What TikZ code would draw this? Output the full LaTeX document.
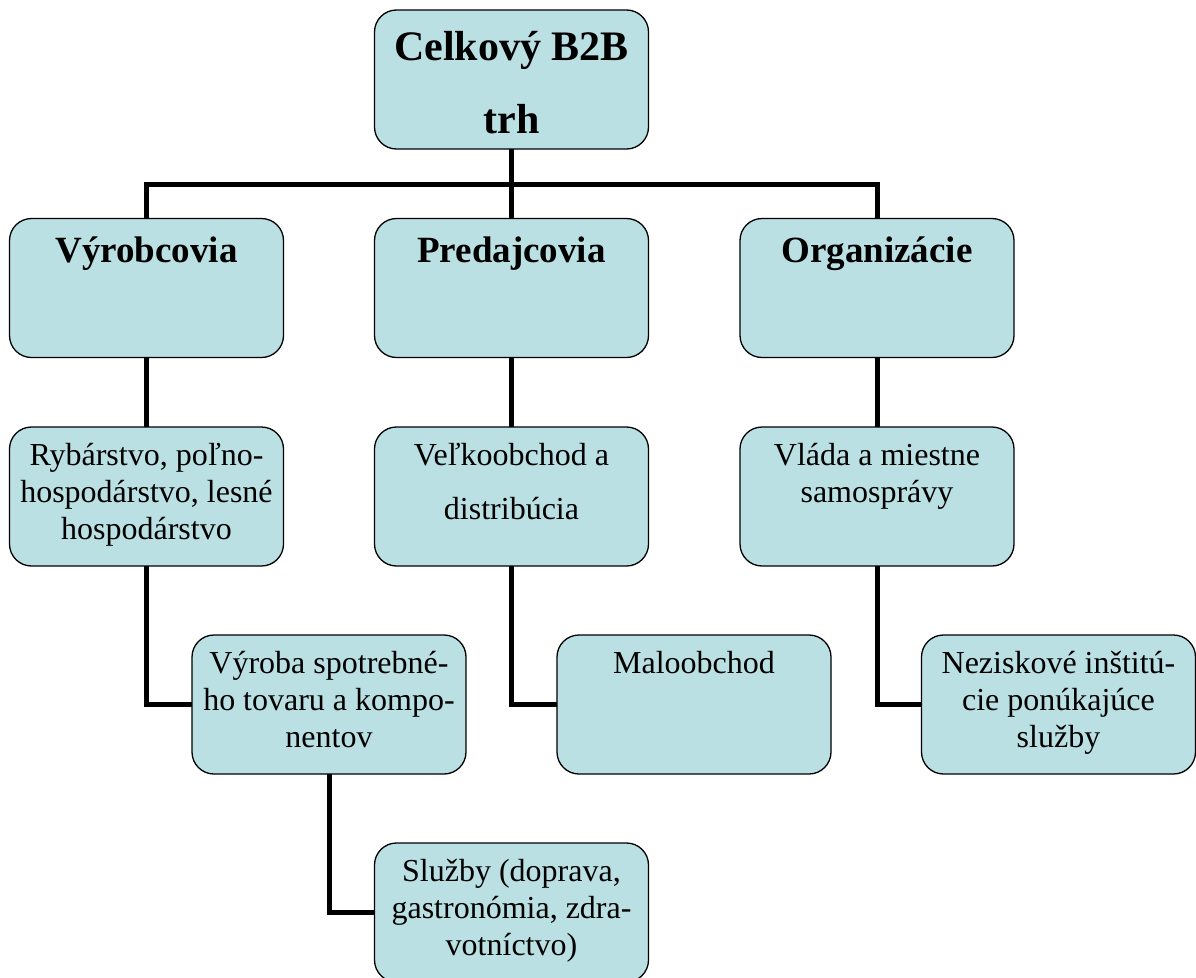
\documentclass[tikz,border=0pt]{standalone}
\usepackage{fontspec}
\setmainfont{Liberation Serif}
\definecolor{cardfill}{RGB}{186,224,227}

% Text block of a card: fixed size, text set from the top.
% #1 font setup, #2 height of first line (baseline offset), #3 text
\newcommand\cardtext[3]{\parbox[c][139pt][t]{274pt}{\centering #1\rule{0pt}{#2}#3\par}}
\newcommand\titlefont{\fontsize{42pt}{73pt}\selectfont\bfseries}
\newcommand\headfont{\fontsize{37pt}{44pt}\selectfont\bfseries}
\newcommand\bodyfont{\fontsize{32pt}{37pt}\selectfont}
\newcommand\widebodyfont{\fontsize{32pt}{54pt}\selectfont}

\tikzset{
  card/.style={draw=black, fill=cardfill, rounded corners=22pt, line width=1.3pt,
    inner sep=0pt, outer sep=0pt, minimum width=274pt, minimum height=139pt},
  wire/.style={draw=black, line width=5pt, line join=miter}
}

\begin{document}
\begin{tikzpicture}[x=1pt,y=-1pt]
\useasboundingbox (0,0) rectangle (1196,977);

% height of the horizontal bus below the root
\coordinate (bus) at (0,184.5);

% cards
\node[card] (top)  at (511.5,79.5)  {\cardtext{\titlefont}{50pt}{Celkový B2B\\trh}};

\node[card] (vyr)  at (146.5,288)   {\cardtext{\headfont}{44pt}{Výrobcovia}};
\node[card] (pred) at (511.5,288)   {\cardtext{\headfont}{44pt}{Predajcovia}};
\node[card] (org)  at (877,288)     {\cardtext{\headfont}{44pt}{Organizácie}};

\node[card] (ryb)  at (146.5,496.5) {\cardtext{\bodyfont}{38pt}{Rybárstvo, poľno-\\hospodárstvo, lesné\\hospodárstvo}};
\node[card] (velk) at (511.5,496.5) {\cardtext{\widebodyfont}{38pt}{Veľkoobchod a\\distribúcia}};
\node[card] (vlad) at (877,496.5)   {\cardtext{\bodyfont}{38pt}{Vláda a miestne\\samosprávy}};

\node[card] (vyrb) at (329,704.5)   {\cardtext{\bodyfont}{38pt}{Výroba spotrebné-\\ho tovaru a kompo-\\nentov}};
\node[card] (malo) at (694,704.5)   {\cardtext{\bodyfont}{38pt}{Maloobchod}};
\node[card] (nez)  at (1058.5,704.5){\cardtext{\bodyfont}{38pt}{Neziskové inštitú-\\cie ponúkajúce\\služby}};

\node[card] (sluz) at (511.5,912.5) {\cardtext{\bodyfont}{38pt}{Služby (doprava,\\gastronómia, zdra-\\votníctvo)}};

% tree connectors
\draw[wire] (top.south) -- (top.south |- bus);
\draw[wire] (vyr.north) |- (org.north |- bus) -- (org.north);
\draw[wire] (pred.north) -- (pred.north |- bus);

\draw[wire] (vyr.south) -- (ryb.north);
\draw[wire] (pred.south) -- (velk.north);
\draw[wire] (org.south) -- (vlad.north);

\draw[wire] (ryb.south) |- (vyrb.west);
\draw[wire] (velk.south) |- (malo.west);
\draw[wire] (vlad.south) |- (nez.west);

\draw[wire] (vyrb.south) |- (sluz.west);
\end{tikzpicture}
\end{document}
